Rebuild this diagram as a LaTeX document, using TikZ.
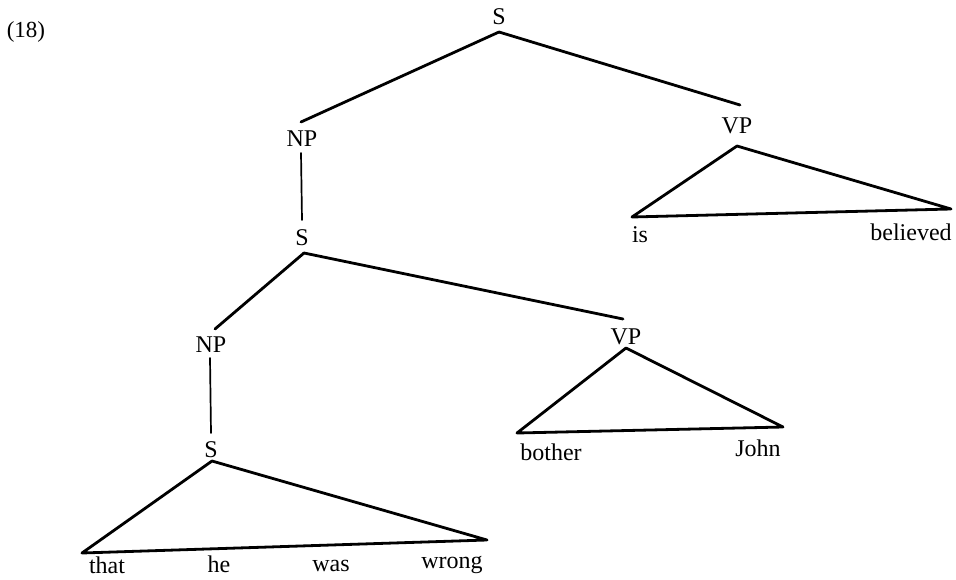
\documentclass[tikz,border=0pt]{standalone}
\usepackage{fontspec}
\setmainfont{Liberation Serif}
\begin{document}
\begin{tikzpicture}[x=1pt,y=-1pt,
  lbl/.style={inner sep=0pt,anchor=base,font=\fontsize{24}{28}\selectfont},
  edge/.style={line width=2.8pt,line cap=round,line join=round},
  thin/.style={line width=1.7pt,line cap=round}]
\useasboundingbox (0,0) rectangle (956,579);
% labels
\node[lbl,font=\fontsize{23}{27}\selectfont] (ex) at (26,37) {(18)};
\node[lbl] (s1) at (499,24) {S};
\node[lbl] (np1) at (302,146) {NP};
\node[lbl] (vp1) at (737,133) {VP};
\node[lbl] (s2) at (302,245) {S};
\node[lbl] (is) at (640,242) {is};
\node[lbl] (bel) at (911,240) {believed};
\node[lbl] (np2) at (211,352) {NP};
\node[lbl] (vp2) at (626,344) {VP};
\node[lbl] (s3) at (211,457) {S};
\node[lbl] (both) at (551,460) {bother};
\node[lbl] (john) at (758,456) {John};
\node[lbl] (that) at (107,573) {that};
\node[lbl] (he) at (219,572) {he};
\node[lbl] (was) at (331,571) {was};
\node[lbl] (wrong) at (452,568) {wrong};
% connector end points
\coordinate (s1a) at (499,32);
\coordinate (np1t) at (301,122);
\coordinate (vp1t) at (740,105);
\coordinate (np1b) at (301,153);
\coordinate (s2t) at (302,220);
\coordinate (vp1a) at (737,146);
\coordinate (vp1l) at (632,217);
\coordinate (vp1r) at (951,209);
\coordinate (s2a) at (304,253);
\coordinate (np2t) at (215,329);
\coordinate (vp2t) at (623,319);
\coordinate (np2b) at (210,358);
\coordinate (s3t) at (211,433);
\coordinate (vp2a) at (626,348);
\coordinate (vp2l) at (517,433);
\coordinate (vp2r) at (783,427);
\coordinate (s3a) at (212,461);
\coordinate (s3l) at (82,553);
\coordinate (s3r) at (487,540);
% branches
\draw[edge] (s1a) -- (np1t);
\draw[edge] (s1a) -- (vp1t);
\draw[thin] (np1b) -- (s2t);
\draw[edge] (vp1a) -- (vp1l) -- (vp1r) -- cycle;
\draw[edge] (s2a) -- (np2t);
\draw[edge] (s2a) -- (vp2t);
\draw[thin] (np2b) -- (s3t);
\draw[edge] (vp2a) -- (vp2l) -- (vp2r) -- cycle;
\draw[edge] (s3a) -- (s3l) -- (s3r) -- cycle;
\end{tikzpicture}
\end{document}
